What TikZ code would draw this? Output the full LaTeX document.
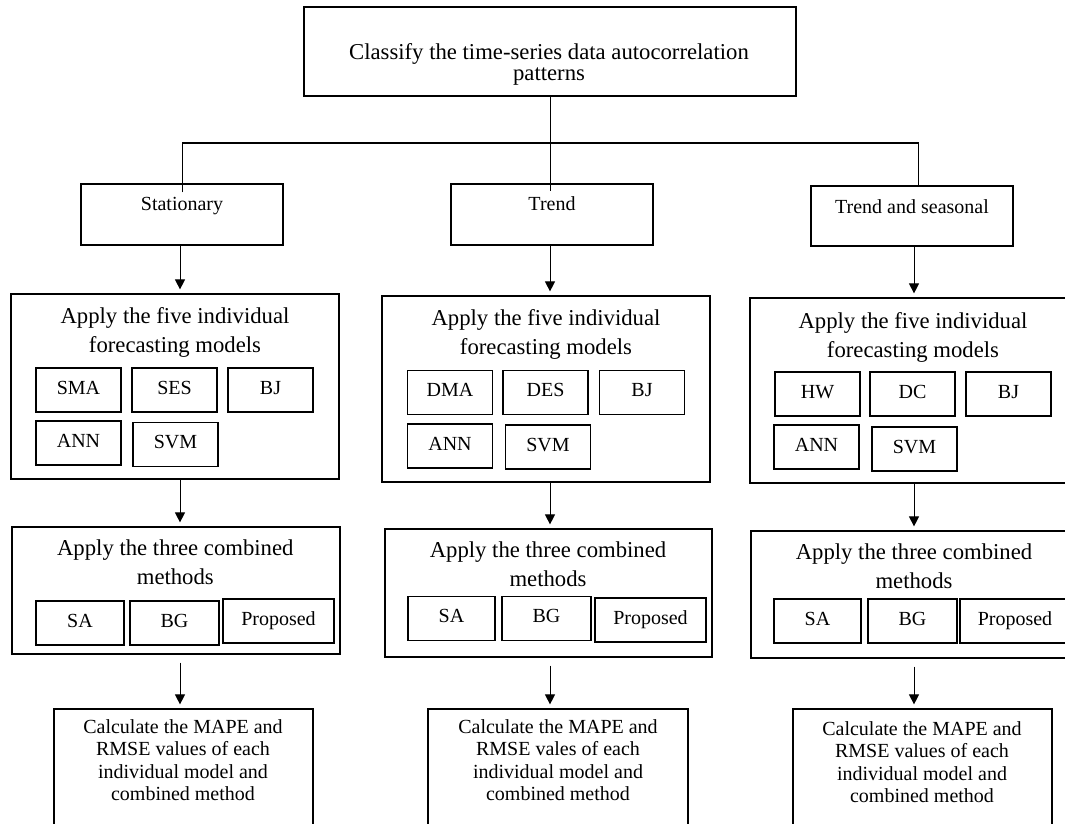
\documentclass[tikz,border=0pt]{standalone}
\usepackage{fontspec}
\setmainfont{Liberation Serif}
\usetikzlibrary{arrows.meta}

\begin{document}
\begin{tikzpicture}[x=1pt,y=-1pt,
  box/.style={draw,line width=1.2pt,inner sep=0pt},
  model/.style={draw,line width=1.2pt,inner sep=0pt,minimum height=44pt,
    text height=14pt,text depth=6pt,font=\fontsize{20}{22.6}\selectfont},
  head/.style={inner sep=0pt,anchor=north,align=center,font=\fontsize{22.7}{29}\selectfont},
  txt/.style={inner sep=0pt,align=center,font=\fontsize{20}{22.6}\selectfont},
  line/.style={line width=1pt},
  arr/.style={line width=1pt,-{Triangle[length=10pt,width=10pt]},shorten >=4pt}]
\useasboundingbox (0,0) rectangle (1065,824);
\clip (0,0) rectangle (1065,824);

% classification
\node[box,minimum width=492pt,minimum height=89pt] (top) at (550,51.5) {};
\node[head,font=\fontsize{22.7}{21.5}\selectfont] (topTxt) at (549,43)
  {Classify the time-series data autocorrelation\\patterns};

\node[box,minimum width=202pt,minimum height=61pt] (stat) at (182,214.5) {};
\node[txt,anchor=base] (statTxt) at (182,210) {Stationary};
\node[box,minimum width=202pt,minimum height=61pt] (trend) at (552,214.5) {};
\node[txt,anchor=base] (trendTxt) at (552,210) {Trend};
\node[box,minimum width=202pt,minimum height=60pt] (tands) at (912,216) {};
\node[txt,anchor=base] (tandsTxt) at (912,213) {Trend and seasonal};

\coordinate (busL) at (182,143);
\coordinate (busR) at (918,143);
\draw[line] ([yshift=-9pt]stat.north) -- (busL) -- (busR) -- (busR |- tands.north);
\draw[line] (top.south) -- ([yshift=-8pt]top.south |- trend.north);

% individual models
\node[box,minimum width=328pt,minimum height=185pt] (fiveL) at (175,386.5) {};
\node[head] (fiveLTxt) at (175,307) {Apply the five individual\\forecasting models};
\node[box,minimum width=328pt,minimum height=186pt] (fiveM) at (546,389) {};
\node[head] (fiveMTxt) at (546,309.3) {Apply the five individual\\forecasting models};
\node[box,minimum width=328pt,minimum height=185pt] (fiveR) at (914,390.5) {};
\node[head] (fiveRTxt) at (913,312) {Apply the five individual\\forecasting models};

\foreach \n/\lab/\x/\y in {smaL/SMA/78.5/390,sesL/SES/174.5/390,bjL/BJ/270.5/390,
    annL/ANN/78.5/443,svmL/SVM/175.5/444.5,
    dmaM/DMA/450/392.5,desM/DES/545.5/392.5,bjM/BJ/642/392.5,
    annM/ANN/450/446,svmM/SVM/548/447,
    hwR/HW/817.5/394,dcR/DC/912.5/394,bjR/BJ/1008.5/394,
    annR/ANN/816.5/447,svmR/SVM/914.5/449}
  \node[model,minimum width=85pt] (\n) at (\x,\y) {\lab};

% combined methods
\node[box,minimum width=328pt,minimum height=127pt] (combL) at (176,590.5) {};
\node[head] (combLTxt) at (175.3,540) {Apply the three combined\\methods};
\node[box,minimum width=327pt,minimum height=128pt] (combM) at (548.5,593) {};
\node[head] (combMTxt) at (548,542) {Apply the three combined\\methods};
\node[box,minimum width=328pt,minimum height=127pt] (combR) at (915,594.5) {};
\node[head] (combRTxt) at (914,544) {Apply the three combined\\methods};

\foreach \n/\lab/\x/\y/\w in {saL/SA/80/623/88,bgL/BG/174.5/623/89,propL/Proposed/278.5/621/111,
    saM/SA/451.5/618.5/87,bgM/BG/546.5/618.5/89,propM/Proposed/650.5/620/111,
    saR/SA/817.5/621/87,bgR/BG/912.5/621/89,propR/Proposed/1015/621/110}
  \node[model,minimum width=\w pt] (\n) at (\x,\y) {\lab};

% evaluation
\node[box,minimum width=259pt,minimum height=141pt] (calcL) at (183.5,779.5) {};
\node[txt,anchor=north] (calcLTxt) at (183,719)
  {Calculate the MAPE and\\RMSE values of each\\individual model and\\combined method};
\node[box,minimum width=260pt,minimum height=141pt] (calcM) at (558,779.5) {};
\node[txt,anchor=north] (calcMTxt) at (558,719)
  {Calculate the MAPE and\\RMSE vales of each\\individual model and\\combined method};
\node[box,minimum width=259pt,minimum height=141pt] (calcR) at (922.5,779.5) {};
\node[txt,anchor=north] (calcRTxt) at (922,721)
  {Calculate the MAPE and\\RMSE values of each\\individual model and\\combined method};

% arrows down each column
\coordinate (colL) at (180,0);
\coordinate (colM) at (550,0);
\coordinate (colR) at (914,0);
\foreach \c/\p in {L/stat,M/trend,R/tands} {
  \draw[arr] (\p.south -| col\c) -- (five\c.north -| col\c);
  \draw[arr] (five\c.south -| col\c) -- (comb\c.north -| col\c);
  \draw[arr,shorten <=8pt] (comb\c.south -| col\c) -- (calc\c.north -| col\c);
}
\end{tikzpicture}
\end{document}
